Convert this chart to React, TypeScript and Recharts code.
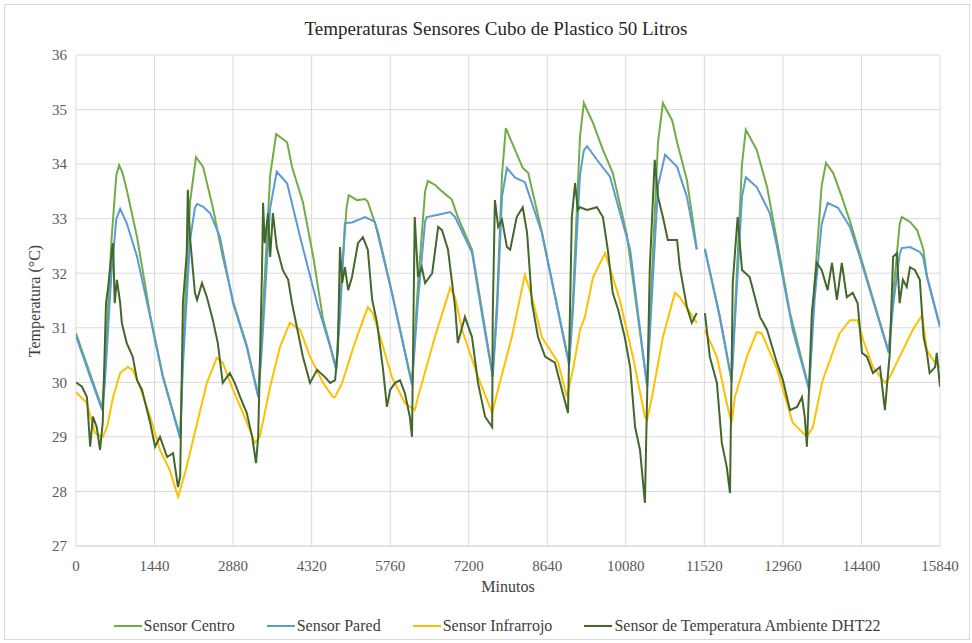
import { LineChart, Line, XAxis, YAxis, CartesianGrid } from 'recharts'

// minutes on the x axis, °C on the y axis
const X_TICKS = [0, 1440, 2880, 4320, 5760, 7200, 8640, 10080, 11520, 12960, 14400, 15840]
const Y_TICKS = [27, 28, 29, 30, 31, 32, 33, 34, 35, 36]

// null = missing data (gap in the record)
const centroMin = [0, 260, 480, 530, 650, 740, 790, 850, 930, 1120, 1360, 1590, 1910, 1960, 2090, 2200, 2330, 2510, 2690, 2820, 2880, 3130, 3340, 3400, 3560, 3670, 3870, 3960, 4160, 4350, 4530, 4660, 4770, 4840, 4960, 5000, 5150, 5300, 5350, 5540, 5790, 6160, 6270, 6400, 6450, 6580, 6710, 6890, 7000, 7260, 7640, 7720, 7810, 7880, 8190, 8290, 8540, 9040, 9110, 9240, 9310, 9480, 9660, 9840, 10100, 10470, 10560, 10670, 10760, 10930, 11020, 11200, 11290, 11380, 11450, 11530, 11800, 12020, 12130, 12210, 12280, 12480, 12670, 12850, 13090, 13440, 13540, 13670, 13750, 13880, 14040, 14190, 14370, 14900, 14980, 15100, 15140, 15290, 15420, 15530, 15600, 15840]
const centroTemp = [30.9, 30.15, 29.52, 30.3, 32.6, 33.8, 33.98, 33.85, 33.53, 32.66, 31.23, 30.13, 29.0, 30.6, 33.3, 34.13, 33.95, 33.2, 32.3, 31.75, 31.48, 30.68, 29.76, 30.8, 33.8, 34.55, 34.4, 33.95, 33.3, 32.3, 31.15, 30.68, 30.25, 31.5, 33.2, 33.43, 33.34, 33.36, 33.31, 32.74, 31.66, 29.98, 31.8, 33.5, 33.69, 33.62, 33.5, 33.35, 33.03, 32.43, 30.13, 31.5, 33.8, 34.66, 33.93, 33.84, 32.76, 30.35, 31.5, 34.5, 35.12, 34.75, 34.26, 33.84, 32.7, 29.95, 32.0, 34.4, 35.12, 34.8, 34.4, 33.71, 33.1, 32.45, null, 32.45, 31.23, 30.05, 32.3, 34.0, 34.63, 34.26, 33.58, 32.6, 31.27, 29.88, 31.8, 33.6, 34.02, 33.84, 33.4, 32.95, 32.35, 30.56, 31.6, 32.9, 33.03, 32.94, 32.79, 32.46, 31.95, 31.03]

const paredMin = [0, 260, 480, 530, 650, 740, 810, 930, 1120, 1360, 1590, 1910, 1960, 2090, 2180, 2220, 2330, 2460, 2640, 2880, 3130, 3340, 3400, 3560, 3680, 3870, 4110, 4420, 4660, 4770, 4840, 4930, 5060, 5300, 5480, 5560, 5790, 6160, 6270, 6400, 6430, 6640, 6860, 6950, 7260, 7450, 7640, 7720, 7810, 7900, 8050, 8230, 8540, 9040, 9110, 9240, 9310, 9370, 9550, 9790, 10160, 10470, 10560, 10670, 10800, 11020, 11200, 11380, 11450, 11530, 11800, 12020, 12130, 12210, 12280, 12480, 12720, 12850, 13140, 13440, 13540, 13670, 13780, 13970, 14190, 14370, 14900, 14980, 15100, 15140, 15290, 15470, 15530, 15600, 15840]
const paredTemp = [30.85, 30.1, 29.49, 30.0, 32.0, 33.0, 33.18, 32.92, 32.3, 31.2, 30.1, 28.97, 30.3, 32.6, 33.2, 33.27, 33.22, 33.1, 32.66, 31.45, 30.65, 29.73, 30.5, 33.2, 33.86, 33.65, 32.66, 31.45, 30.65, 30.23, 31.2, 32.92, 32.93, 33.03, 32.94, 32.6, 31.64, 29.95, 31.5, 32.95, 33.03, 33.07, 33.12, 33.03, 32.38, 31.2, 30.1, 31.3, 33.4, 33.93, 33.75, 33.67, 32.74, 30.32, 31.3, 33.8, 34.25, 34.33, 34.08, 33.77, 32.43, 29.92, 31.6, 33.6, 34.17, 33.95, 33.4, 32.43, null, 32.43, 31.2, 30.02, 32.0, 33.4, 33.76, 33.58, 33.1, 32.5, 30.96, 29.86, 31.5, 32.9, 33.29, 33.2, 32.85, 32.3, 30.54, 31.4, 32.35, 32.46, 32.48, 32.39, 32.3, 31.93, 31.01]

const infraMin = [0, 200, 350, 490, 570, 680, 810, 950, 1040, 1170, 1360, 1540, 1720, 1870, 2000, 2220, 2400, 2580, 2690, 2880, 3060, 3280, 3370, 3560, 3740, 3920, 4110, 4290, 4530, 4710, 4750, 4880, 5110, 5350, 5440, 5610, 5790, 6030, 6210, 6270, 6580, 6860, 6950, 7080, 7370, 7630, 7720, 7990, 8230, 8360, 8540, 8840, 9000, 9110, 9240, 9330, 9480, 9700, 9840, 9970, 10210, 10430, 10470, 10560, 10760, 10980, 11070, 11380, 11450, 11530, 11750, 11930, 12020, 12080, 12300, 12480, 12570, 12850, 13140, 13400, 13510, 13690, 14000, 14190, 14330, 14430, 14610, 14830, 14920, 15160, 15340, 15510, 15600, 15710, 15840]
const infraTemp = [29.82, 29.62, 29.07, 29.0, 29.18, 29.73, 30.17, 30.28, 30.23, 29.92, 29.37, 28.76, 28.39, 27.9, 28.34, 29.25, 29.99, 30.45, 30.36, 29.86, 29.44, 28.89, 29.0, 29.92, 30.65, 31.09, 30.96, 30.47, 29.99, 29.73, 29.73, 29.99, 30.72, 31.38, 31.27, 30.72, 30.1, 29.62, 29.49, 29.73, 30.83, 31.73, 31.56, 30.96, 30.1, 29.44, 29.8, 30.83, 31.97, 31.56, 30.83, 30.36, 29.73, 30.23, 30.96, 31.2, 31.93, 32.37, 31.93, 31.51, 30.47, 29.37, 29.31, 29.73, 30.83, 31.64, 31.56, 31.09, null, 30.95, 30.47, 29.62, 29.26, 29.73, 30.47, 30.92, 30.9, 30.25, 29.26, 29.0, 29.18, 30.04, 30.9, 31.14, 31.14, 30.78, 30.28, 29.99, 30.1, 30.59, 30.96, 31.23, 30.59, 30.41, 30.28]

const dhtMin = [0, 110, 200, 260, 310, 380, 440, 490, 550, 590, 660, 680, 710, 750, 810, 840, 930, 1040, 1120, 1210, 1360, 1450, 1540, 1670, 1780, 1870, 1910, 1960, 2030, 2050, 2090, 2180, 2220, 2310, 2400, 2510, 2600, 2690, 2820, 2910, 3010, 3130, 3230, 3300, 3340, 3410, 3430, 3460, 3520, 3560, 3610, 3680, 3790, 3890, 3960, 4050, 4160, 4290, 4420, 4560, 4660, 4750, 4800, 4840, 4880, 4930, 4990, 5060, 5170, 5260, 5350, 5430, 5520, 5630, 5700, 5760, 5850, 5940, 6030, 6120, 6160, 6210, 6270, 6340, 6400, 6530, 6640, 6710, 6820, 6950, 7000, 7130, 7260, 7370, 7500, 7630, 7640, 7680, 7740, 7810, 7900, 7960, 8080, 8190, 8270, 8360, 8470, 8600, 8780, 8910, 9020, 9090, 9150, 9200, 9240, 9370, 9550, 9660, 9750, 9840, 9940, 10060, 10160, 10250, 10340, 10430, 10520, 10610, 10670, 10760, 10850, 11020, 11070, 11200, 11290, 11380, 11450, 11530, 11620, 11750, 11840, 11930, 11990, 12040, 12130, 12210, 12350, 12540, 12670, 12850, 12960, 13090, 13220, 13310, 13360, 13400, 13490, 13580, 13670, 13780, 13860, 13950, 14040, 14130, 14240, 14330, 14410, 14500, 14610, 14740, 14830, 14920, 14980, 15050, 15100, 15160, 15230, 15290, 15380, 15470, 15540, 15600, 15650, 15750, 15780, 15840]
const dhtTemp = [30.0, 29.92, 29.73, 28.82, 29.37, 29.18, 28.76, 29.26, 31.45, 31.75, 32.43, 32.55, 31.45, 31.88, 31.45, 31.09, 30.72, 30.47, 30.04, 29.86, 29.26, 28.82, 29.0, 28.63, 28.7, 28.08, 28.27, 31.45, 32.37, 33.53, 32.66, 31.64, 31.51, 31.82, 31.56, 31.14, 30.72, 29.99, 30.17, 29.99, 29.73, 29.44, 29.0, 28.52, 29.0, 32.06, 33.29, 32.55, 33.1, 32.3, 33.1, 32.48, 32.06, 31.88, 31.45, 31.01, 30.47, 29.99, 30.23, 30.1, 29.99, 30.04, 30.59, 32.48, 31.82, 32.11, 31.69, 31.93, 32.55, 32.66, 32.43, 31.51, 31.09, 30.23, 29.55, 29.86, 29.99, 30.04, 29.8, 29.37, 29.0, 33.03, 31.93, 32.11, 31.82, 32.0, 32.85, 32.79, 32.43, 31.38, 30.72, 31.2, 30.83, 29.99, 29.37, 29.18, 31.2, 33.34, 32.85, 32.98, 32.48, 32.43, 33.03, 33.21, 32.74, 31.45, 30.83, 30.47, 30.36, 29.86, 29.44, 33.03, 33.65, 33.16, 33.21, 33.16, 33.21, 33.03, 32.43, 31.64, 31.33, 30.83, 30.28, 29.18, 28.76, 27.79, 32.11, 34.08, 33.4, 33.03, 32.61, 32.61, 32.11, 31.38, 31.09, 31.27, null, 31.27, 30.47, 29.99, 28.89, 28.45, 27.97, 31.82, 33.03, 32.06, 31.93, 31.2, 30.96, 30.36, 30.04, 29.49, 29.55, 29.73, 29.37, 28.82, 31.27, 32.19, 32.06, 31.69, 32.19, 31.51, 32.19, 31.56, 31.64, 31.45, 30.54, 30.47, 30.17, 30.28, 29.49, 30.54, 32.3, 32.37, 31.45, 31.88, 31.75, 32.11, 32.06, 31.88, 30.83, 30.54, 30.17, 30.28, 30.54, 29.92]

const SERIES = [
  { name: 'Sensor Centro', color: '#70AD47', min: centroMin, temp: centroTemp },
  { name: 'Sensor Pared', color: '#5B9BD5', min: paredMin, temp: paredTemp },
  { name: 'Sensor Infrarrojo', color: '#FFC000', min: infraMin, temp: infraTemp },
  { name: 'Sensor de Temperatura Ambiente DHT22', color: '#43682B', min: dhtMin, temp: dhtTemp },
]

const toRows = (min: number[], temp: (number | null)[]) => min.map((m, i) => ({ m, t: temp[i] }))

const FONT = '"Liberation Serif", "Times New Roman", serif'
const tickStyle = { fontSize: 15, fill: '#595959', fontFamily: FONT }

export default function App() {
  return (
    <div style={{ position: 'absolute', left: 4, top: 4, width: 966, height: 636, border: '1px solid #d9d9d9', boxSizing: 'border-box', background: '#fff', fontFamily: FONT }}>
      <LineChart width={964} height={634} margin={{ top: 50, right: 29, left: 0, bottom: 63 }}>
        <CartesianGrid stroke="#d9d9d9" strokeWidth={1} />
        <XAxis
          type="number"
          dataKey="m"
          domain={[0, 15840]}
          ticks={X_TICKS}
          allowDataOverflow
          tickLine={false}
          tickSize={0}
          tickMargin={14}
          axisLine={{ stroke: '#d9d9d9' }}
          tick={tickStyle}
          height={30}
        />
        <YAxis
          type="number"
          domain={[27, 36]}
          ticks={Y_TICKS}
          tickLine={false}
          axisLine={false}
          tickSize={0}
          tickMargin={9}
          tick={tickStyle}
          width={71}
        />
        {SERIES.map(s => (
          <Line
            key={s.name}
            data={toRows(s.min, s.temp)}
            dataKey="t"
            name={s.name}
            stroke={s.color}
            strokeWidth={2}
            dot={false}
            type="linear"
            connectNulls={false}
            isAnimationActive={false}
          />
        ))}
      </LineChart>

      <div style={{ position: 'absolute', left: 0, width: 982, top: 13, textAlign: 'center', fontSize: 19, color: '#262626' }}>
        Temperaturas Sensores Cubo de Plastico 50 Litros
      </div>
      <div style={{ position: 'absolute', left: 30, top: 296, transform: 'translate(-50%, -50%) rotate(-90deg)', whiteSpace: 'nowrap', fontSize: 16, color: '#404040' }}>
        Temperatura (°C)
      </div>
      <div style={{ position: 'absolute', left: 0, width: 1006, top: 573, textAlign: 'center', fontSize: 16, color: '#404040' }}>
        Minutos
      </div>
      <div style={{ position: 'absolute', left: 0, width: 984, top: 612, display: 'flex', justifyContent: 'center', gap: 32, fontSize: 16, color: '#404040' }}>
        {SERIES.map(s => (
          <div key={s.name} style={{ display: 'flex', alignItems: 'center', gap: 2 }}>
            <span style={{ display: 'inline-block', width: 28, height: 2, background: s.color }} />
            <span>{s.name}</span>
          </div>
        ))}
      </div>
    </div>
  )
}
